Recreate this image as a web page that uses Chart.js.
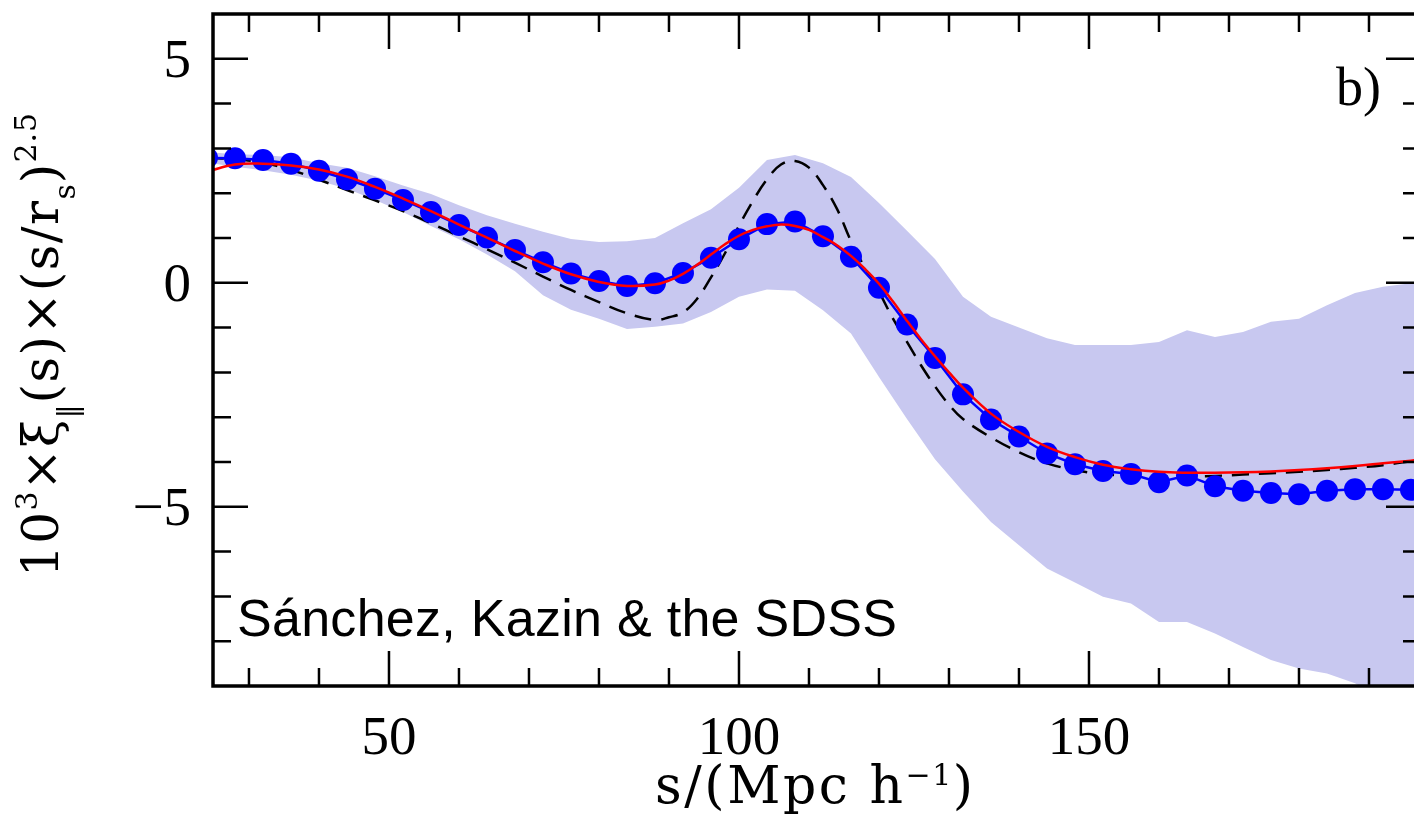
<!DOCTYPE html>
<html>
<head>
<meta charset="utf-8">
<script src="https://cdn.jsdelivr.net/npm/chart.js@4.4.1/dist/chart.umd.min.js"></script>
<style>
  html, body { margin: 0; padding: 0; background: #fff; overflow: hidden; width: 1414px; height: 821px; }
  #c { display: block; }
</style>
</head>
<body>
<canvas id="c" width="1414" height="821"></canvas>
<script>
// Separation bins of the measured correlation function (Mpc/h)
const sBins = [24, 28, 32, 36, 40, 44, 48, 52, 56, 60, 64, 68, 72, 76, 80, 84, 88, 92, 96, 100,
               104, 108, 112, 116, 120, 124, 128, 132, 136, 140, 144, 148, 152, 156, 160, 164,
               168, 172, 176, 180, 184, 188, 192, 196];

// Measured 10^3 xi_par(s) (s/r_s)^2.5
const xiMeasured = [2.79, 2.78, 2.74, 2.66, 2.50, 2.31, 2.10, 1.85, 1.58, 1.29, 1.01, 0.73, 0.46,
                    0.21, 0.04, -0.07, -0.01, 0.22, 0.56, 0.97, 1.31, 1.37, 1.04, 0.58, -0.11,
                    -0.93, -1.68, -2.49, -3.05, -3.43, -3.81, -4.05, -4.20, -4.27, -4.45, -4.30,
                    -4.54, -4.64, -4.69, -4.72, -4.64, -4.61, -4.61, -4.62];

// Scatter of the mock catalogues (upper and lower edge of the shaded region)
const sBand = [24, 28, 32, 36, 40, 44, 48, 52, 56, 60, 64, 68, 72, 76, 80, 84, 88, 92, 96, 100,
               104, 108, 112, 116, 120, 124, 128, 132, 136, 140, 144, 148, 152, 156, 160, 164,
               168, 172, 176, 180, 184, 188, 192, 196, 200];
const bandHigh = [2.92, 2.87, 2.85, 2.80, 2.67, 2.57, 2.38, 2.17, 1.98, 1.73, 1.51, 1.32, 1.14,
                  0.98, 0.91, 0.93, 1.00, 1.33, 1.64, 2.12, 2.74, 2.85, 2.67, 2.36, 1.78, 1.16,
                  0.53, -0.31, -0.76, -1.00, -1.24, -1.39, -1.39, -1.39, -1.32, -1.06, -1.21,
                  -1.10, -0.87, -0.80, -0.50, -0.23, -0.09, -0.01, 0.03];
const bandLow = [2.68, 2.59, 2.51, 2.41, 2.28, 2.10, 1.85, 1.58, 1.27, 0.97, 0.63, 0.26, -0.28,
                 -0.60, -0.80, -1.03, -0.98, -0.91, -0.65, -0.31, -0.15, -0.18, -0.61, -1.13,
                 -2.10, -3.04, -3.94, -4.66, -5.34, -5.86, -6.38, -6.69, -7.01, -7.16, -7.57,
                 -7.57, -7.83, -8.13, -8.42, -8.61, -8.72, -8.94, -9.30, -9.60, -9.85];

// Model curves sampled at these separations
const sModel = [24, 28, 32, 36, 40, 44, 48, 52, 56, 60, 64, 68, 72, 76, 80, 84, 88, 90, 92, 94,
                96, 98, 100, 102, 104, 106, 108, 110, 112, 114, 116, 118, 120, 122, 124, 126,
                128, 130, 132, 136, 140, 144, 148, 152, 156, 160, 164, 168, 172, 176, 180, 184,
                188, 192, 196, 198];
// Best-fitting model (solid red)
const xiBestFit = [2.48, 2.64, 2.66, 2.62, 2.53, 2.37, 2.14, 1.88, 1.60, 1.30, 1.01, 0.71, 0.43,
                   0.19, 0.02, -0.07, -0.04, 0.05, 0.20, 0.40, 0.63, 0.86, 1.05, 1.18, 1.26, 1.30,
                   1.27, 1.18, 1.02, 0.84, 0.60, 0.31, -0.02, -0.42, -0.85, -1.26, -1.64, -2.00,
                   -2.34, -2.92, -3.33, -3.66, -3.89, -4.06, -4.16, -4.22, -4.24, -4.24, -4.23,
                   -4.21, -4.18, -4.14, -4.09, -4.03, -3.97, -3.94];
// Linear-theory model (dashed black)
const xiLinear = [2.79, 2.76, 2.68, 2.52, 2.30, 2.07, 1.84, 1.60, 1.33, 1.04, 0.75, 0.45, 0.14,
                  -0.16, -0.43, -0.68, -0.83, -0.77, -0.66, -0.36, 0.12, 0.66, 1.27, 1.83, 2.31,
                  2.64, 2.72, 2.57, 2.18, 1.65, 0.93, 0.33, -0.20, -0.80, -1.32, -1.84, -2.31,
                  -2.72, -3.04, -3.45, -3.78, -4.03, -4.18, -4.27, -4.31, -4.33, -4.32, -4.31,
                  -4.28, -4.25, -4.22, -4.18, -4.13, -4.07, -3.98, -3.94];

// Axis ticks and labels
const xMajorTicks = [50, 100, 150];
const xTickLabels = ['50', '100', '150'];
const xMinorTicks = [30, 40, 60, 70, 80, 90, 110, 120, 130, 140, 160, 170, 180, 190];
const yMajorTicks = [-5, 0, 5];
const yTickLabels = ['\u22125', '0', '5'];
const yMinorTicks = [-8, -7, -6, -4, -3, -2, -1, 1, 2, 3, 4];

// Visible x window, and where the right-hand side of the box sits (just past the canvas edge)
const X_MIN = 24.86, X_MAX = 196.43, X_BOX_RIGHT = 197.43;

const pts = (xs, ys) => xs.map((x, i) => ({ x, y: ys[i] }));

const SERIF = '"Liberation Serif", "DejaVu Serif", serif';
const WIDE_SERIF = '"DejaVu Serif", "Liberation Serif", serif';
const SANS = '"Liberation Sans", "DejaVu Sans", sans-serif';

// Draw a sequence of text runs (own size and baseline shift each), spread to a given width;
// the extra spacing after each glyph scales with that glyph's font size.
function drawRuns(ctx, runs, x, y, targetWidth, align) {
  let natural = 0, weight = 0, lastSize = 0;
  for (const r of runs) {
    ctx.font = r.size + 'px ' + r.family;
    for (const ch of r.t) { natural += ctx.measureText(ch).width; weight += r.size; lastSize = r.size; }
  }
  weight -= lastSize;
  const total = targetWidth || natural;
  const k = targetWidth ? (targetWidth - natural) / weight : 0;
  let cx = align === 'center' ? x - total / 2 : x;
  ctx.textAlign = 'left';
  ctx.textBaseline = 'alphabetic';
  for (const r of runs) {
    ctx.font = r.size + 'px ' + r.family;
    for (const ch of r.t) {
      ctx.fillText(ch, cx, y + (r.dy || 0));
      cx += ctx.measureText(ch).width + k * r.size;
    }
  }
}

// Box frame with inward ticks on all four sides, plus all text
const framePlugin = {
  id: 'frame',
  afterDatasetsDraw(chart) {
    const { ctx, chartArea: a, scales: { x, y } } = chart;
    const left = a.left, top = a.top, bottom = a.bottom;
    const right = x.getPixelForValue(X_BOX_RIGHT);
    ctx.save();
    ctx.strokeStyle = '#000';
    ctx.lineCap = 'butt';
    ctx.lineWidth = 2.5;
    const minorLen = 18, majorLen = 35;
    const xt = (v, len) => {
      const px = x.getPixelForValue(v);
      ctx.beginPath();
      ctx.moveTo(px, bottom); ctx.lineTo(px, bottom - len);
      ctx.moveTo(px, top); ctx.lineTo(px, top + len);
      ctx.stroke();
    };
    const yt = (v, len) => {
      const py = y.getPixelForValue(v);
      ctx.beginPath();
      ctx.moveTo(left, py); ctx.lineTo(left + len, py);
      ctx.moveTo(right, py); ctx.lineTo(right - len, py);
      ctx.stroke();
    };
    xMinorTicks.forEach(v => xt(v, minorLen));
    xMajorTicks.forEach(v => xt(v, majorLen));
    yMinorTicks.forEach(v => yt(v, minorLen));
    yMajorTicks.forEach(v => yt(v, majorLen));
    ctx.lineWidth = 3.5;
    ctx.strokeRect(left, top, right - left, bottom - top);
    ctx.restore();
  },
  afterDraw(chart) {
    const { ctx, scales: { x, y } } = chart;
    ctx.save();
    ctx.fillStyle = '#000';
    // tick labels
    ctx.font = '55px ' + SERIF;
    ctx.textBaseline = 'alphabetic';
    ctx.textAlign = 'center';
    xMajorTicks.forEach((v, i) => ctx.fillText(xTickLabels[i], x.getPixelForValue(v), 754));
    ctx.textAlign = 'right';
    yMajorTicks.forEach((v, i) => ctx.fillText(yTickLabels[i], 191, y.getPixelForValue(v) + 18));

    // x-axis title
    drawRuns(ctx, [
      { t: 's/(Mpc h', size: 52, family: WIDE_SERIF },
      { t: '\u22121', size: 30, family: WIDE_SERIF, dy: -18 },
      { t: ')', size: 52, family: WIDE_SERIF }
    ], 814, 803, 318, 'center');

    // y-axis title, rotated
    ctx.save();
    ctx.translate(58, 345);
    ctx.rotate(-Math.PI / 2);
    drawRuns(ctx, [
      { t: '10', size: 50, family: WIDE_SERIF },
      { t: '3', size: 30, family: WIDE_SERIF, dy: -21 },
      { t: '\u00d7\u03be', size: 50, family: WIDE_SERIF },
      { t: '\u2016', size: 28, family: WIDE_SERIF, dy: 19 },
      { t: '(s)\u00d7(s/r', size: 50, family: WIDE_SERIF },
      { t: 's', size: 30, family: WIDE_SERIF, dy: 17 },
      { t: ')', size: 50, family: WIDE_SERIF },
      { t: '2.5', size: 30, family: WIDE_SERIF, dy: -22 }
    ], 0, 0, 464, 'center');
    ctx.restore();

    // panel annotations
    drawRuns(ctx, [{ t: 'S\u00e1nchez, Kazin & the SDSS', size: 52, family: SANS }], 237, 636, 660, 'left');
    ctx.font = '54px ' + SERIF;
    ctx.textAlign = 'left';
    ctx.fillText('b)', 1336, 105);
    ctx.restore();
  }
};

new Chart(document.getElementById('c'), {
  type: 'line',
  data: {
    datasets: [
      { data: pts(sBand, bandLow), borderWidth: 0, pointRadius: 0, fill: false, order: 5, clip: 0 },
      { data: pts(sBand, bandHigh), borderWidth: 0, pointRadius: 0, fill: '-1',
        backgroundColor: '#c8c8f0', order: 4, clip: 0 },
      { data: pts(sModel, xiLinear), borderColor: '#000', borderWidth: 2.5, borderDash: [17, 10],
        pointRadius: 0, tension: 0.4, fill: false, order: 3, clip: 0 },
      { data: pts(sBins, xiMeasured), borderColor: '#0000ff', borderWidth: 2.5, pointRadius: 11,
        pointBackgroundColor: '#0000ff', pointBorderWidth: 0, pointHoverRadius: 11,
        tension: 0, fill: false, order: 2, clip: 0 },
      { data: pts(sModel, xiBestFit), borderColor: '#ff0000', borderWidth: 2.5, pointRadius: 0,
        tension: 0.4, fill: false, order: 1, clip: 0 }
    ]
  },
  options: {
    responsive: false,
    animation: false,
    devicePixelRatio: 1,
    events: [],
    // fixed plot box; no extra inset for point radii
    layout: { autoPadding: false, padding: { top: 14, right: 0, left: 0, bottom: 0 } },
    plugins: { legend: { display: false }, tooltip: { enabled: false } },
    scales: {
      x: {
        type: 'linear', min: X_MIN, max: X_MAX,
        grid: { display: false, drawTicks: false }, border: { display: false },
        ticks: { display: false },
        afterFit(s) { s.height = 135; }
      },
      y: {
        type: 'linear', min: -9, max: 6,
        grid: { display: false, drawTicks: false }, border: { display: false },
        ticks: { display: false },
        afterFit(s) { s.width = 213; }
      }
    }
  },
  plugins: [framePlugin]
});
</script>
</body>
</html>
